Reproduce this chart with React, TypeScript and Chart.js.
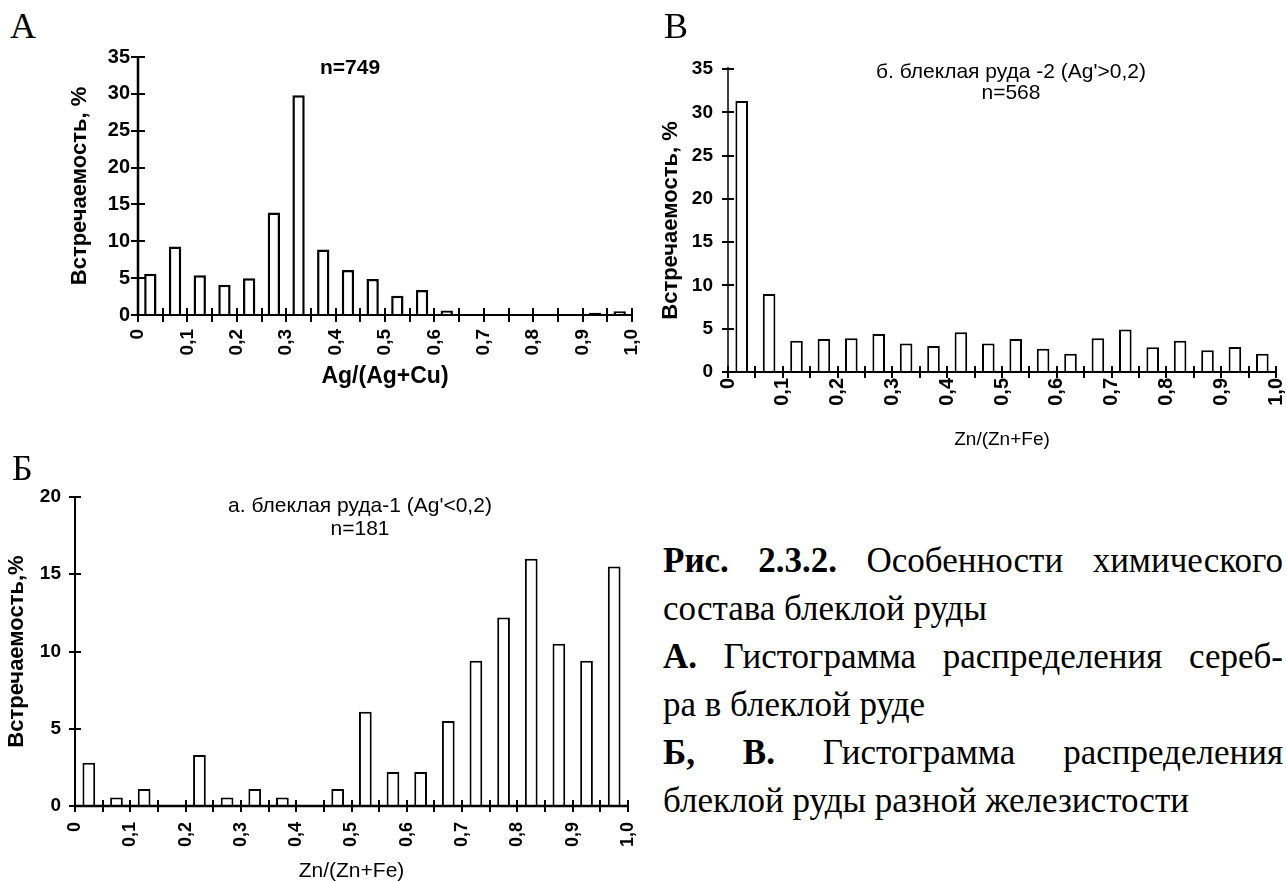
import React, { useEffect, useRef } from 'react';
import { Chart, registerables } from 'chart.js';

Chart.register(...registerables);

// ---------------- data ----------------
const binCenters = [
  0.025, 0.075, 0.125, 0.175, 0.225, 0.275, 0.325, 0.375, 0.425, 0.475,
  0.525, 0.575, 0.625, 0.675, 0.725, 0.775, 0.825, 0.875, 0.925, 0.975,
];
const xTickLabels = ['0', '0,1', '0,2', '0,3', '0,4', '0,5', '0,6', '0,7', '0,8', '0,9', '1,0'];

// А: Ag/(Ag+Cu), n=749
const silverShare = [5.6, 9.3, 5.4, 4.1, 5.0, 13.9, 29.8, 8.9, 6.1, 4.9, 2.6, 3.4, 0.6, 0, 0, 0, 0, 0, 0.3, 0.5];
// В: Zn/(Zn+Fe), блеклая руда-2, n=568
const zincShareOre2 = [31.3, 9.0, 3.6, 3.8, 3.9, 4.4, 3.3, 3.0, 4.6, 3.3, 3.8, 2.7, 2.1, 3.9, 4.9, 2.85, 3.6, 2.5, 2.9, 2.1];
// Б: Zn/(Zn+Fe), блеклая руда-1, n=181
const zincShareOre1 = [2.8, 0.55, 1.1, 0, 3.3, 0.55, 1.1, 0.55, 0, 1.1, 6.1, 2.2, 2.2, 5.5, 9.4, 12.2, 16.0, 10.5, 9.4, 15.5];

const SANS = "'Liberation Sans', Arial, 'DejaVu Sans', sans-serif";
const SERIF = "'Liberation Serif', 'Times New Roman', serif";

// Draws the axis lines and the tick marks that cross them, using the chart's scales
const crossAxesPlugin = {
  id: 'crossAxes',
  afterDatasetsDraw(chart: any, _args: any, opts: any) {
    const { ctx, chartArea, scales } = chart;
    const x = scales.x;
    const y = scales.y;
    ctx.save();
    ctx.strokeStyle = '#000';
    ctx.lineCap = 'butt';
    ctx.lineWidth = opts.yAxisWidth;
    ctx.beginPath();
    ctx.moveTo(chartArea.left, chartArea.top - (opts.yOver || 0));
    ctx.lineTo(chartArea.left, chartArea.bottom + 1);
    ctx.stroke();
    ctx.lineWidth = opts.xAxisWidth;
    ctx.beginPath();
    ctx.moveTo(chartArea.left - 1, chartArea.bottom);
    ctx.lineTo(chartArea.right, chartArea.bottom);
    ctx.stroke();
    ctx.lineWidth = opts.tickWidth;
    ctx.beginPath();
    x.ticks.forEach((t: any) => {
      const px = Math.round(x.getPixelForValue(t.value));
      ctx.moveTo(px, chartArea.bottom - opts.tickHalf);
      ctx.lineTo(px, chartArea.bottom + opts.tickHalf);
    });
    y.ticks.forEach((t: any) => {
      const py = Math.round(y.getPixelForValue(t.value));
      ctx.moveTo(chartArea.left - opts.tickHalf, py);
      ctx.lineTo(chartArea.left + opts.tickHalf, py);
    });
    ctx.stroke();
    ctx.restore();
  },
};

type Spec = {
  values: number[];
  yMax: number;
  canvas: { left: number; top: number; width: number; height: number };
  plot: { left: number; right: number; top: number; bottom: number };
  yTitle: string;
  yTitleX: number;
  yTitleSize: number;
  xTitle: string;
  xTitleY: number;
  xTitleSize: number;
  xTitleBold: boolean;
  yTickSize: number;
  xTickSize: number;
  yTickPad: number;
  xTickPad: number;
  barPct: number;
  barBorder: number;
  axes: { xAxisWidth: number; yAxisWidth: number; tickWidth: number; tickHalf: number; yOver?: number };
};

function Histogram({ spec }: { spec: Spec }) {
  const ref = useRef<HTMLCanvasElement | null>(null);
  useEffect(() => {
    const canvas = ref.current;
    if (!canvas) return;
    const c = spec.canvas;
    const p = spec.plot;
    const padL = spec.yTitleX - spec.yTitleSize / 2 - c.left;
    const yAxisW = p.left - c.left - padL;
    const padT = p.top - c.top;
    const padR = c.left + c.width - p.right;
    const padB = c.top + c.height - (spec.xTitleY + spec.xTitleSize / 2);
    const xAxisH = c.top + c.height - padB - p.bottom;

    const chart = new Chart(canvas, {
      type: 'bar',
      data: {
        datasets: [
          {
            data: binCenters.map((x, i) => ({ x, y: spec.values[i] })),
            backgroundColor: '#ffffff',
            borderColor: '#000000',
            borderWidth: spec.barBorder,
            borderSkipped: 'start',
            categoryPercentage: 1,
            barPercentage: spec.barPct,
          } as any,
        ],
      },
      options: {
        responsive: false,
        animation: false,
        devicePixelRatio: 1,
        events: [],
        layout: { padding: { left: padL, top: padT, right: padR, bottom: padB } },
        plugins: {
          legend: { display: false },
          tooltip: { enabled: false },
          title: { display: false },
          crossAxes: spec.axes,
        } as any,
        scales: {
          x: {
            type: 'linear',
            min: 0,
            max: 1,
            offset: false,
            grid: { display: false, drawTicks: false },
            border: { display: false },
            ticks: {
              stepSize: 0.05,
              autoSkip: false,
              maxRotation: 90,
              minRotation: 90,
              padding: spec.xTickPad,
              color: '#000',
              font: { family: SANS, size: spec.xTickSize, weight: 'bold', lineHeight: 1 },
              callback: (_v: any, index: number) => (index % 2 === 0 ? xTickLabels[index / 2] ?? '' : ''),
            },
            title: {
              display: true,
              text: spec.xTitle,
              color: '#000',
              padding: 0,
              font: { family: SANS, size: spec.xTitleSize, weight: spec.xTitleBold ? 'bold' : 'normal', lineHeight: 1 },
            },
            afterFit: (s: any) => {
              s.height = xAxisH;
              s.paddingLeft = 0;
              s.paddingRight = 0;
            },
          } as any,
          y: {
            type: 'linear',
            min: 0,
            max: spec.yMax,
            grid: { display: false, drawTicks: false },
            border: { display: false },
            ticks: {
              stepSize: 5,
              padding: spec.yTickPad,
              color: '#000',
              font: { family: SANS, size: spec.yTickSize, weight: 'bold', lineHeight: 1 },
            },
            title: {
              display: true,
              text: spec.yTitle,
              color: '#000',
              padding: 0,
              font: { family: SANS, size: spec.yTitleSize, weight: 'bold', lineHeight: 1 },
            },
            afterFit: (s: any) => {
              s.width = yAxisW;
              s.paddingTop = 0;
              s.paddingBottom = 0;
            },
          } as any,
        },
      },
      plugins: [crossAxesPlugin as any],
    });
    return () => chart.destroy();
  }, [spec]);

  const c = spec.canvas;
  return (
    <canvas
      ref={ref}
      width={c.width}
      height={c.height}
      style={{ position: 'absolute', left: c.left, top: c.top, width: c.width, height: c.height }}
    />
  );
}

const specA: Spec = {
  values: silverShare,
  yMax: 35,
  canvas: { left: 40, top: 40, width: 600, height: 360 },
  plot: { left: 138, right: 632, top: 57, bottom: 315 },
  yTitle: 'Встречаемость, %',
  yTitleX: 80,
  yTitleSize: 22,
  xTitle: 'Ag/(Ag+Cu)',
  xTitleY: 377,
  xTitleSize: 23,
  xTitleBold: true,
  yTickSize: 20,
  xTickSize: 19,
  yTickPad: 8,
  xTickPad: 14,
  barPct: 0.5,
  barBorder: 2.5,
  axes: { xAxisWidth: 2, yAxisWidth: 2.5, tickWidth: 2, tickHalf: 7 },
};

const specB: Spec = {
  values: zincShareOre2,
  yMax: 35,
  canvas: { left: 640, top: 45, width: 646, height: 410 },
  plot: { left: 728, right: 1276, top: 69, bottom: 372 },
  yTitle: 'Встречаемость, %',
  yTitleX: 671,
  yTitleSize: 22,
  xTitle: 'Zn/(Zn+Fe)',
  xTitleY: 440,
  xTitleSize: 19,
  xTitleBold: false,
  yTickSize: 19,
  xTickSize: 20,
  yTickPad: 15,
  xTickPad: 6,
  barPct: 0.46,
  barBorder: 2,
  axes: { xAxisWidth: 2, yAxisWidth: 1.5, tickWidth: 2, tickHalf: 6, yOver: 2 },
};

const specV: Spec = {
  values: zincShareOre1,
  yMax: 20,
  canvas: { left: 0, top: 470, width: 640, height: 411 },
  plot: { left: 75, right: 628, top: 497, bottom: 806 },
  yTitle: 'Встречаемость,%',
  yTitleX: 17,
  yTitleSize: 22,
  xTitle: 'Zn/(Zn+Fe)',
  xTitleY: 871,
  xTitleSize: 21,
  xTitleBold: false,
  yTickSize: 19,
  xTickSize: 18,
  yTickPad: 14,
  xTickPad: 16,
  barPct: 0.46,
  barBorder: 2,
  axes: { xAxisWidth: 2.5, yAxisWidth: 2, tickWidth: 2, tickHalf: 6 },
};

const captionLines = [
  { bold: 'Рис. 2.3.2.', rest: ' Особенности химического', justify: true },
  { bold: '', rest: 'состава блеклой руды', justify: false },
  { bold: 'А.', rest: ' Гистограмма распределения сереб-', justify: true },
  { bold: '', rest: 'ра в блеклой руде', justify: false },
  { bold: 'Б, В.', rest: ' Гистограмма распределения', justify: true },
  { bold: '', rest: 'блеклой руды разной железистости', justify: false },
];

const abs = (left: number, top: number, extra: React.CSSProperties = {}): React.CSSProperties => ({
  position: 'absolute',
  left,
  top,
  whiteSpace: 'nowrap',
  margin: 0,
  color: '#000',
  ...extra,
});

export default function App() {
  return (
    <div
      style={{
        position: 'absolute',
        left: 0,
        top: 0,
        width: 1286,
        height: 881,
        overflow: 'hidden',
        background: '#ffffff',
      }}
    >
      <Histogram spec={specA} />
      <Histogram spec={specB} />
      <Histogram spec={specV} />

      {/* panel letters */}
      <div style={abs(10, 8, { fontFamily: SERIF, fontSize: 36, lineHeight: '36px' })}>А</div>
      <div style={abs(664, 8, { fontFamily: SERIF, fontSize: 36, lineHeight: '36px' })}>В</div>
      <div style={abs(12, 450, { fontFamily: SERIF, fontSize: 36, lineHeight: '36px' })}>Б</div>

      {/* in-plot titles */}
      <div
        style={abs(350, 55.5, {
          transform: 'translateX(-50%)',
          fontFamily: SANS,
          fontWeight: 'bold',
          fontSize: 21,
          lineHeight: '21px',
          textAlign: 'center',
        })}
      >
        n=749
      </div>
      <div
        style={abs(1011, 60, {
          transform: 'translateX(-50%)',
          fontFamily: SANS,
          fontSize: 21,
          lineHeight: '21px',
          textAlign: 'center',
        })}
      >
        б. блеклая руда -2 (Ag'&gt;0,2)
        <br />
        n=568
      </div>
      <div
        style={abs(360, 492.5, {
          transform: 'translateX(-50%)',
          fontFamily: SANS,
          fontSize: 21,
          lineHeight: '23px',
          textAlign: 'center',
        })}
      >
        а. блеклая руда-1 (Ag'&lt;0,2)
        <br />
        n=181
      </div>

      {/* caption */}
      <div
        style={{
          position: 'absolute',
          left: 663,
          top: 537.2,
          width: 620,
          fontFamily: SERIF,
          fontSize: 35,
          lineHeight: '48px',
          color: '#000',
        }}
      >
        {captionLines.map((l, i) => (
          <div
            key={i}
            style={{
              textAlign: l.justify ? 'justify' : 'left',
              textAlignLast: l.justify ? 'justify' : 'left',
              whiteSpace: 'normal',
            }}
          >
            {l.bold ? <b>{l.bold}</b> : null}
            {l.rest}
          </div>
        ))}
      </div>
    </div>
  );
}
